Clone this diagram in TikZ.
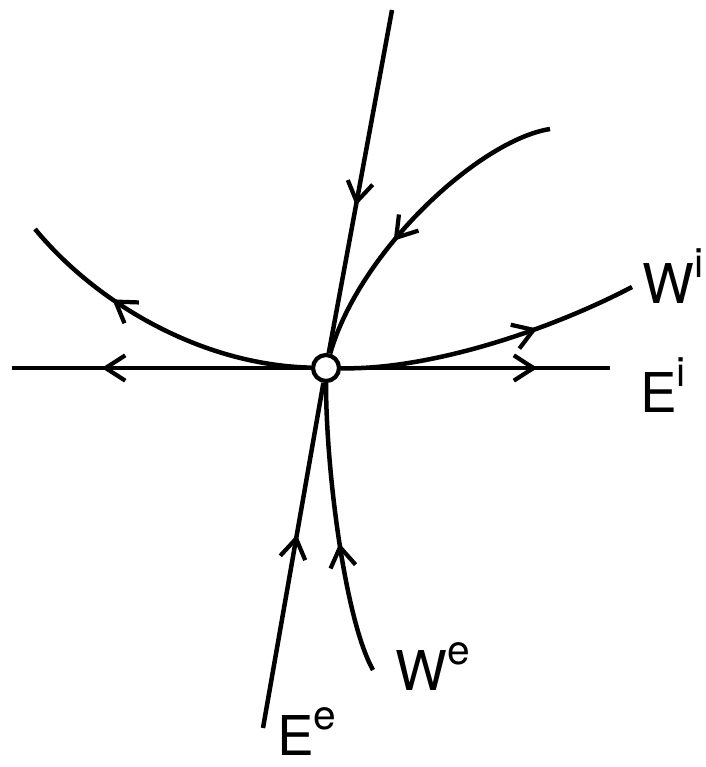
\documentclass[tikz,border=0pt]{standalone}
\usepackage{fontspec}
\setmainfont{TeX Gyre Heros}
\usetikzlibrary{arrows.meta, decorations.markings}

\newcommand{\manlab}[2]{#1\raisebox{18pt}{\fontsize{29}{31}\selectfont #2}}

\begin{document}
\begin{tikzpicture}[x=0.025cm, y=-0.025cm,
		traj/.style={line width=3.2pt},
		flow/.style={postaction={decorate}, decoration={markings,
			mark=at position #1 with {\arrow{Straight Barb[length=14pt, width=18pt, line width=3pt]}}}},
		fix/.style={circle, draw, line width=3pt, fill=white, minimum size=18.5pt, inner sep=0pt},
		lbl/.style={anchor=base west, inner sep=0pt, font=\fontsize{39}{42}\selectfont}]
	\useasboundingbox (0,0) rectangle (705,767);

	% Punto fijo
	\node[fix] (o) at (326,368) {};

	% Extremos libres
	\coordinate (hl) at (12,368);
	\coordinate (hr) at (610,368);
	\coordinate (top) at (392,10);
	\coordinate (ur) at (550,129);
	\coordinate (ul) at (35,229);
	\coordinate (wir) at (632,287);
	\coordinate (eeb) at (263,728);
	\coordinate (web) at (373,670);

	% Variedades
	\draw[traj, flow=0.70] (o) -- (hl);
	\draw[traj, flow=0.73] (o) -- (hr);
	\draw[traj, flow=0.57] (top) -- (o);
	\draw[traj, flow=0.60] (ur) .. controls (480,140) and (360,250) .. (o);
	\draw[traj, flow=0.67] (o) .. controls (200,365) and (95,302) .. (ul);
	\draw[traj, flow=0.66] (o) .. controls (430,370) and (550,330) .. (wir);
	\draw[traj, flow=0.56] (eeb) -- (o);
	\draw[traj, flow=0.45] (web) .. controls (345,620) and (326,470) .. (o);

	% Etiquetas
	\node[lbl] (wi) at (642,303) {\manlab{W}{i}};
	\node[lbl] (ei) at (640,412) {\manlab{E}{i}};
	\node[lbl] (ee) at (277,755) {\manlab{E}{e}};
	\node[lbl] (we) at (395,690) {\manlab{W}{e}};
\end{tikzpicture}
\end{document}
